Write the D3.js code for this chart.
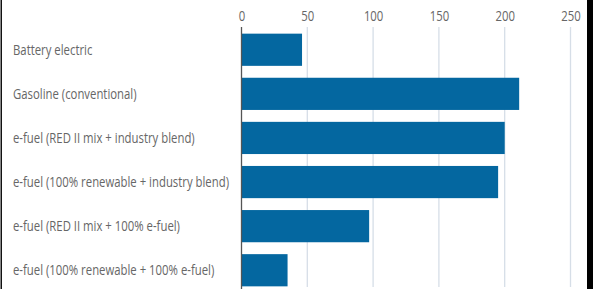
<!DOCTYPE html>
<html><head><meta charset="utf-8">
<script src="https://cdn.jsdelivr.net/npm/d3@7"></script>
<style>
html,body{margin:0;padding:0;background:#fff;overflow:hidden}
svg{display:block}
</style></head>
<body>
<script>
const categories = [
  "Battery electric",
  "Gasoline (conventional)",
  "e-fuel (RED II mix + industry blend)",
  "e-fuel (100% renewable + industry blend)",
  "e-fuel (RED II mix + 100% e-fuel)",
  "e-fuel (100% renewable + 100% e-fuel)"
];
const values = [46, 211, 200, 195, 97, 35];
const tickValues = [0, 50, 100, 150, 200, 250];

const W = 593, H = 289;
const FONT = "'Open Sans', 'Noto Sans', sans-serif";
const svg = d3.select("body").append("svg").attr("width", W).attr("height", H);

const x = d3.scaleLinear().domain([0, 250]).range([241.5, 570.5]);
const y = d3.scaleBand().domain(categories).range([27.7, 292.3]).paddingInner(0.27).paddingOuter(0.135);

// gridlines
svg.append("g").selectAll("line").data(tickValues.slice(1)).join("line")
  .attr("x1", d => x(d)).attr("x2", d => x(d))
  .attr("y1", 27).attr("y2", 287)
  .attr("stroke", "#d6dee7").attr("stroke-width", 1.3);

// top axis labels
const ax = svg.append("g").attr("transform", "translate(0,20.5)")
  .call(d3.axisTop(x).tickValues(tickValues).tickSize(0).tickPadding(0).tickFormat(d3.format("d")));
ax.select(".domain").remove();
ax.selectAll("text").attr("font-family", FONT)
  .attr("font-size", 14).attr("fill", "#666").attr("dy", 0);

// bars
svg.append("g").selectAll("rect").data(values).join("rect")
  .attr("x", x(0)).attr("y", (d, i) => y(categories[i]))
  .attr("width", d => x(d) - x(0)).attr("height", y.bandwidth())
  .attr("fill", "#0467a0");

// zero axis line
svg.append("line").attr("x1", x(0)).attr("x2", x(0)).attr("y1", 27).attr("y2", 289)
  .attr("stroke", "#555").attr("stroke-width", 1.3);

// category labels
const labels = svg.append("g").selectAll("text").data(categories).join("text")
  .attr("x", 13).attr("y", d => y(d) + y.bandwidth() / 2)
  .attr("dy", "0.36em")
  .attr("font-family", FONT)
  .attr("font-size", 14).attr("fill", "#666")
  .text(d => d);

// condense glyphs to match the narrow face of the reference
let maxLen = 0;
labels.each(function () { maxLen = Math.max(maxLen, this.getComputedTextLength()); });
const k = 216 / maxLen;
labels.each(function () {
  d3.select(this).attr("textLength", this.getComputedTextLength() * k).attr("lengthAdjust", "spacingAndGlyphs");
});
ax.selectAll("text").each(function () {
  d3.select(this).attr("textLength", this.getComputedTextLength() * k).attr("lengthAdjust", "spacingAndGlyphs");
});

// frame
svg.append("rect").attr("x", 0.5).attr("y", -2).attr("width", 1.5).attr("height", H + 4).attr("fill", "#111");
svg.append("rect").attr("x", 587).attr("y", 0).attr("width", 6).attr("height", H).attr("fill", "#000");
</script>
</body></html>
